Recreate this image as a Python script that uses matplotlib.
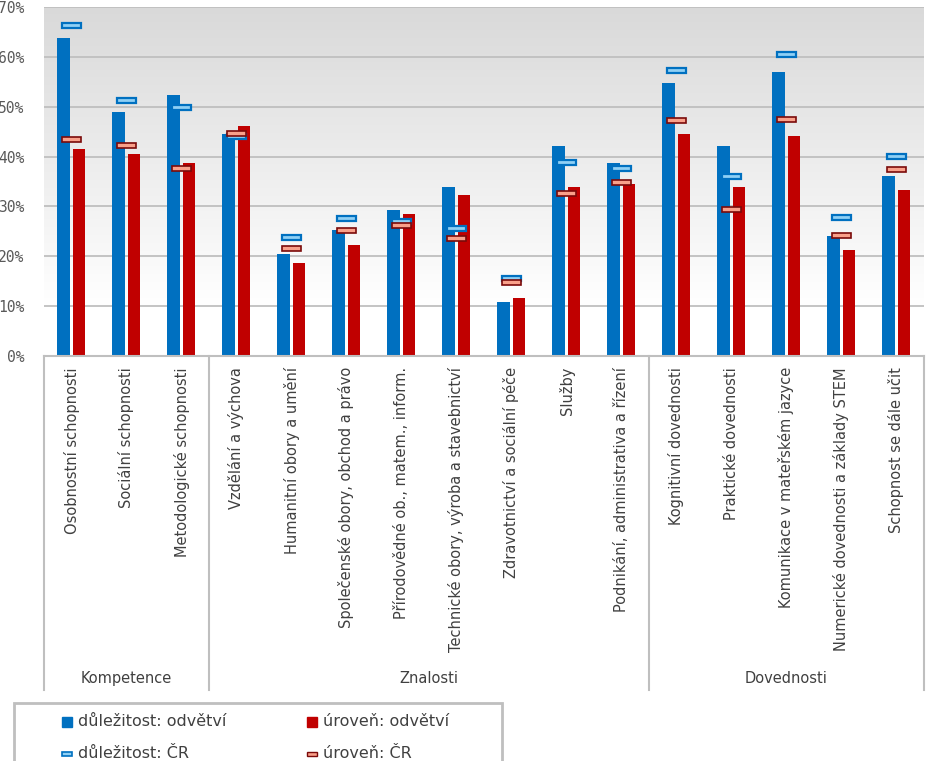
import numpy as np
import matplotlib
matplotlib.use("Agg")
import matplotlib.pyplot as plt
from matplotlib.colors import LinearSegmentedColormap
from matplotlib.patches import Rectangle
from matplotlib.transforms import blended_transform_factory


# ---------- data (percent) ----------
categories = [
    "Osobnostní schopnosti",
    "Sociální schopnosti",
    "Metodologické schopnosti",
    "Vzdělání a výchova",
    "Humanitní obory a umění",
    "Společenské obory, obchod a právo",
    "Přírodovědné ob., matem., inform.",
    "Technické obory, výroba a stavebnictví",
    "Zdravotnictví a sociální péče",
    "Služby",
    "Podnikání, administrativa a řízení",
    "Kognitivní dovednosti",
    "Praktické dovednosti",
    "Komunikace v mateřském jazyce",
    "Numerické dovednosti a základy STEM",
    "Schopnost se dále učit",
]
groups = ["Kompetence", "Znalosti", "Dovednosti"]
group_sizes = [3, 8, 5]

dulezitost_odvetvi = [63.7, 48.9, 52.3, 44.5, 20.4, 25.3, 29.3, 33.9, 10.8, 42.1, 38.7,
                      54.7, 42.1, 56.9, 24.0, 36.1]
uroven_odvetvi = [41.5, 40.5, 38.7, 46.1, 18.6, 22.2, 28.5, 32.3, 11.6, 33.9, 34.5,
                  44.5, 33.9, 44.1, 21.2, 33.3]
dulezitost_cr = [66.3, 51.2, 49.8, 44.0, 23.7, 27.5, 26.9, 25.5, 15.6, 38.9, 37.7,
                 57.2, 36.1, 60.4, 27.7, 40.1]
uroven_cr = [43.4, 42.2, 37.6, 44.6, 21.6, 25.2, 26.2, 23.6, 14.8, 32.6, 34.8,
             47.2, 29.4, 47.4, 24.2, 37.4]

y_ticks = [0, 10, 20, 30, 40, 50, 60, 70]

BLUE = "#0070C0"
RED = "#C00000"
BLUE_LIGHT = "#8FD0F5"
RED_LIGHT = "#F9A08A"
RED_DARK = "#7A0A0A"
GRID = "#BFBFBF"

W, H = 927, 761
fig = plt.figure(figsize=(W / 100, H / 100), dpi=100)
ax = fig.add_axes([44 / W, 1 - 356 / H, 880 / W, 349 / H])

n = len(categories)
x = np.arange(n)
ax.set_xlim(-0.5, n - 0.5)
ax.set_ylim(0, 70)

# background gradient (grey at top fading to white)
grad = np.linspace(0, 1, 256).reshape(-1, 1)
ax.imshow(grad, extent=(-0.5, n - 0.5, 0, 70), origin="lower", aspect="auto",
          cmap=LinearSegmentedColormap.from_list(
              "bg", [(0, "#FFFFFF"), (10 / 70, "#FFFFFF"), (1, "#D9D9D9")]),
          zorder=0)

for yt in y_ticks[1:]:
    ax.axhline(yt, color=GRID, lw=1.3, zorder=1)

ax.bar(x - 0.145, dulezitost_odvetvi, width=0.235, color=BLUE, zorder=2)
ax.bar(x + 0.14, uroven_odvetvi, width=0.225, color=RED, zorder=2)

# national values as short flat markers
mh = 1.0
ax.bar(x, mh, bottom=np.array(dulezitost_cr) - mh / 2, width=0.34,
       color=BLUE_LIGHT, edgecolor=BLUE, linewidth=1.6, zorder=3)
ax.bar(x, mh, bottom=np.array(uroven_cr) - mh / 2, width=0.34,
       color=RED_LIGHT, edgecolor=RED_DARK, linewidth=1.2, zorder=3)

for s in ["left", "right", "top"]:
    ax.spines[s].set_visible(False)
ax.spines["bottom"].set_color(GRID)
ax.spines["bottom"].set_linewidth(1.5)

ax.set_yticks(y_ticks)
ax.set_yticklabels([f"{v}%" for v in y_ticks], family="DejaVu Sans Mono",
                   fontsize=10.5, color="#595959")
ax.tick_params(axis="y", length=0, pad=14)

ax.set_xticks(x)
ax.set_xticklabels(categories, rotation=90, fontsize=10.5, color="#404040")
ax.tick_params(axis="x", length=0, pad=8)

# group separators and group names below the axis
trans = blended_transform_factory(ax.transData, ax.transAxes)
y_line = (356 - 690) / 349
y_grp = (356 - 678) / 349
edges = np.concatenate([[0], np.cumsum(group_sizes)]) - 0.5
for e in edges:
    ax.plot([e, e], [0, y_line], transform=trans, color=GRID, lw=1.5,
            clip_on=False, zorder=1)
for g, a, b in zip(groups, edges[:-1], edges[1:]):
    ax.text((a + b) / 2, y_grp, g, transform=trans, ha="center", va="center",
            fontsize=10.5, color="#404040")

# legend (frame runs off the bottom edge, as in the original)
def fx(px):
    return px / W


def fy(py):
    return 1 - py / H


fig.add_artist(Rectangle((fx(14), fy(790)), fx(488), 87 / H, transform=fig.transFigure,
                         facecolor="white", edgecolor=GRID, lw=2))
legend_items = [
    (62, 722, "důležitost: odvětví", BLUE, BLUE, 10, 1.0),
    (307, 722, "úroveň: odvětví", RED, RED, 10, 1.0),
    (62, 754, "důležitost: ČR", BLUE_LIGHT, BLUE, 4, 1.2),
    (307, 754, "úroveň: ČR", RED_LIGHT, RED_DARK, 4, 1.0),
]
for px, py, label, fc, ec, h, lw in legend_items:
    fig.add_artist(Rectangle((fx(px), fy(py + h / 2)), fx(10), h / H,
                             transform=fig.transFigure, facecolor=fc, edgecolor=ec, lw=lw))
    fig.text(fx(px + 16), fy(py), label, ha="left", va="center", fontsize=11.5,
             color="#404040")

fig.savefig("out.png", dpi=100)
